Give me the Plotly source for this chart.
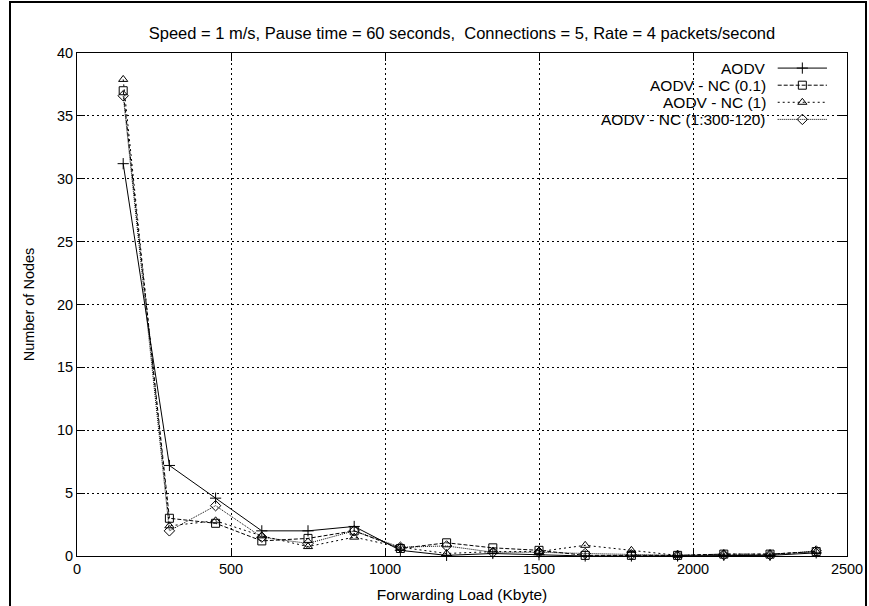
import plotly.graph_objects as go

# ---- data ----
forwarding_load = [150, 300, 450, 600, 750, 900, 1050, 1200, 1350, 1500, 1650, 1800, 1950, 2100, 2250, 2400]
aodv =        [31.2, 7.2, 4.6, 2.0, 2.0, 2.35, 0.45, 0.05, 0.2, 0.1, 0.0, 0.0, 0.0, 0.05, 0.05, 0.25]
aodv_nc_01 =  [37.0, 3.0, 2.6, 1.2, 1.4, 2.0, 0.6, 1.05, 0.65, 0.45, 0.05, 0.05, 0.05, 0.15, 0.15, 0.35]
aodv_nc_1 =   [37.9, 2.4, 2.8, 1.6, 0.75, 1.5, 0.7, 0.2, 0.35, 0.35, 0.85, 0.45, 0.05, 0.15, 0.15, 0.35]
aodv_nc_var = [36.6, 2.0, 4.0, 1.5, 1.0, 2.0, 0.7, 0.8, 0.3, 0.3, 0.2, 0.1, 0.05, 0.1, 0.1, 0.4]

series_names = ["AODV", "AODV - NC (0.1)", "AODV - NC (1)", "AODV - NC (1:300-120)"]
series_values = [aodv, aodv_nc_01, aodv_nc_1, aodv_nc_var]
x_ticks = [0, 500, 1000, 1500, 2000, 2500]
y_ticks = [0, 5, 10, 15, 20, 25, 30, 35, 40]

title_text = "Speed = 1 m/s, Pause time = 60 seconds,  Connections = 5, Rate = 4 packets/second"

# ---- styles ----
dashes = ["solid", "4px,2px", "2px,3px", "1px,1px"]
symbols = ["cross-thin-open", "square-open", "triangle-up-open", "diamond-open"]
msizes = [8, 8, 8, 8]
FONT = "Liberation Sans, Arial, Helvetica, sans-serif"

W, H = 869, 606
L, R, T, B = 77, 22, 53, 50

fig = go.Figure()
for name, vals, d, s, ms in zip(series_names, series_values, dashes, symbols, msizes):
    fig.add_trace(go.Scatter(
        x=forwarding_load, y=vals, name=name, mode="lines+markers",
        line=dict(color="black", width=1, dash=d),
        marker=dict(symbol=s, size=ms, color="black", line=dict(color="black", width=1)),
        cliponaxis=False, showlegend=False,
    ))

# custom gnuplot-style key (text left, sample right) on an overlay axis
key_y = [0.970, 0.936, 0.902, 0.868]
for name, d, s, ms, ky in zip(series_names, dashes, symbols, msizes, key_y):
    fig.add_annotation(xref="paper", yref="paper", x=0.897, y=ky, text=name,
                       showarrow=False, xanchor="right", yanchor="middle",
                       font=dict(family=FONT, size=15.5, color="black"))
    fig.add_shape(type="line", xref="paper", yref="paper", x0=0.910, x1=0.974, y0=ky, y1=ky,
                  line=dict(color="black", width=1, dash=d))
    fig.add_trace(go.Scatter(x=[0.942], y=[ky], xaxis="x2", yaxis="y2", mode="markers",
                             marker=dict(symbol=s, size=ms, color="black", line=dict(color="black", width=1)),
                             showlegend=False, hoverinfo="skip", cliponaxis=False))

# outer frame
def px_to_paper_x(px):
    return (px - L) / (W - L - R)

def px_to_paper_y(py):
    return (H - B - py) / (H - T - B)

fig.add_shape(type="rect", xref="paper", yref="paper",
              x0=px_to_paper_x(10), x1=px_to_paper_x(866), y0=px_to_paper_y(640), y1=px_to_paper_y(2),
              line=dict(color="black", width=2), layer="above")

grid_style = dict(showgrid=True, gridcolor="black", gridwidth=1, griddash="2px,3px")
fig.update_layout(
    width=W, height=H,
    margin=dict(l=L, r=R, t=T, b=B, autoexpand=False),
    paper_bgcolor="white", plot_bgcolor="white",
    font=dict(family=FONT, size=14, color="black"),
    title=dict(text=title_text, x=(L + (W - L - R) / 2) / W, xanchor="center",
               y=1 - 33 / H, yanchor="middle", font=dict(family=FONT, size=16.5)),
    xaxis=dict(range=[0, 2500], tickvals=x_ticks, ticks="inside", ticklen=8, tickcolor="black",
               showline=True, linecolor="black", linewidth=1, mirror="ticks", zeroline=False,
               title=dict(text="Forwarding Load (Kbyte)", standoff=12, font=dict(size=15.5)),
               tickfont=dict(size=14.5), **grid_style),
    yaxis=dict(range=[0, 40], tickvals=y_ticks, ticks="inside", ticklen=8, tickcolor="black",
               showline=True, linecolor="black", linewidth=1, mirror="ticks", zeroline=False,
               title=dict(text="Number of Nodes", standoff=18, font=dict(size=14.5)),
               tickfont=dict(size=14.5), **grid_style),
    xaxis2=dict(range=[0, 1], overlaying="x", visible=False, showgrid=False),
    yaxis2=dict(range=[0, 1], overlaying="y", visible=False, showgrid=False),
)

fig.write_html("out.html")
